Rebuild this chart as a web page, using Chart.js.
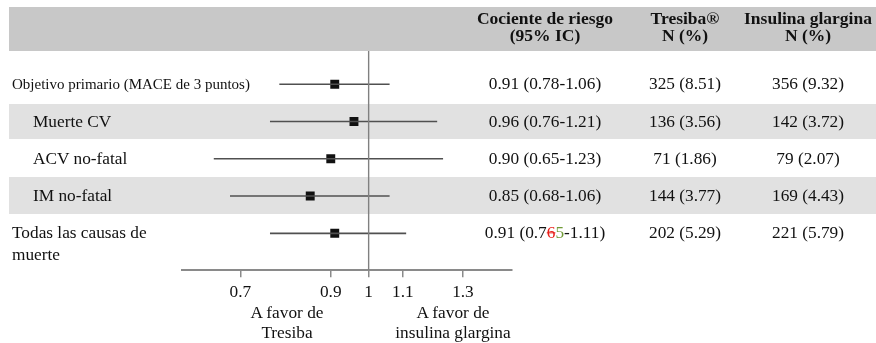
<!DOCTYPE html>
<html>
<head>
<meta charset="utf-8">
<script src="https://cdn.jsdelivr.net/npm/chart.js@4.4.1/dist/chart.umd.min.js"></script>
<style>
  html, body { margin: 0; padding: 0; background: #fff; }
  #wrap { position: relative; width: 876px; height: 343px; overflow: hidden; font-family: "Liberation Serif", "Times New Roman", serif; color: #111; }
  #wrap canvas { position: absolute; left: 0; top: 0; }
  .band { position: absolute; }
  .txt { position: absolute; white-space: nowrap; line-height: 1; }
</style>
</head>
<body>
<div id="wrap">
  <canvas id="forest" width="876" height="343"></canvas>
</div>
<script>
// datos
const rowLabels = ["Objetivo primario (MACE de 3 puntos)", "Muerte CV", "ACV no-fatal", "IM no-fatal", "Todas las causas de muerte"];
const hr = [0.91, 0.96, 0.90, 0.85, 0.91];
const ciLow = [0.78, 0.76, 0.65, 0.68, 0.76];
const ciHigh = [1.06, 1.21, 1.23, 1.06, 1.11];
const ciText = ["0.91 (0.78-1.06)", "0.96 (0.76-1.21)", "0.90 (0.65-1.23)", "0.85 (0.68-1.06)",
  '0.91 (0.7<span style="color:#e8201a;text-decoration:line-through">6</span><span style="color:#6f9a35">5</span>-1.11)'];
const tresibaN = ["325 (8.51)", "136 (3.56)", "71 (1.86)", "144 (3.77)", "202 (5.29)"];
const glarginaN = ["356 (9.32)", "142 (3.72)", "79 (2.07)", "169 (4.43)", "221 (5.79)"];
const headers = [["Cociente de riesgo", "(95% IC)"], ["Tresiba®", "N (%)"], ["Insulina glargina", "N (%)"]];
const xTicks = [0.7, 0.9, 1, 1.1, 1.3];

const wrap = document.getElementById("wrap");
const FS = 17.3;

function addBand(x, y, w, h, color) {
  const d = document.createElement("div");
  d.className = "band";
  d.style.left = x + "px";
  d.style.top = y + "px";
  d.style.width = w + "px";
  d.style.height = h + "px";
  d.style.background = color;
  wrap.insertBefore(d, wrap.firstChild);
}

function addText(html, x, y, size, align, bold) {
  const d = document.createElement("div");
  d.className = "txt";
  d.innerHTML = html;
  d.style.left = x + "px";
  d.style.top = y + "px";
  d.style.fontSize = size + "px";
  if (bold) d.style.fontWeight = "bold";
  d.style.transform = align === "center" ? "translate(-50%, -50%)" : "translateY(-50%)";
  wrap.appendChild(d);
}

// fondos
const rowY = [84, 122, 159, 196, 233];
[[104, 35], [177, 37]].forEach(b => {
  addBand(9, b[0], 867, b[1], "#e1e1e1");
  [190, 465, 628, 743].forEach(sx => addBand(sx, b[0], 2, b[1], "#f2f2f2"));
});
addBand(9, 7, 867, 44, "#c8c8c8");

// cabecera
const colX = [545, 685, 808];
headers.forEach((h, i) => {
  addText(h[0], colX[i], 19, 17.5, "center", true);
  addText(h[1], colX[i], 36, 17.5, "center", true);
});

// filas
addText(rowLabels[0], 12, rowY[0], 15, "left");
for (let i = 1; i < 4; i++) addText(rowLabels[i], 33, rowY[i], FS, "left");
addText("Todas las causas de", 12, rowY[4], FS, "left");
addText("muerte", 12, rowY[4] + 22, FS, "left");

for (let i = 0; i < rowLabels.length; i++) {
  addText(ciText[i], colX[0], rowY[i], FS, "center");
  addText(tresibaN[i], colX[1], rowY[i], FS, "center");
  addText(glarginaN[i], colX[2], rowY[i], FS, "center");
}

addText("A favor de", 287, 313, FS, "center");
addText("Tresiba", 287, 333, FS, "center");
addText("A favor de", 453, 313, FS, "center");
addText("insulina glargina", 453, 333, FS, "center");

// grafico
const yMin = -0.89;
const yMax = 4.99;

const ciSets = hr.map((v, i) => ({
  type: "line",
  data: [{ x: ciLow[i], y: i }, { x: ciHigh[i], y: i }],
  borderColor: "#505050",
  borderWidth: 1.6,
  pointRadius: 0
}));

const ctx = document.getElementById("forest").getContext("2d");
new Chart(ctx, {
  type: "scatter",
  data: {
    datasets: [
      {
        type: "line",
        data: [{ x: 1, y: yMin }, { x: 1, y: yMax }],
        borderColor: "#808080",
        borderWidth: 1.4,
        pointRadius: 0
      },
      ...ciSets,
      {
        data: hr.map((v, i) => ({ x: v, y: i })),
        pointStyle: "rect",
        pointRadius: 6.3,
        backgroundColor: "#111",
        borderWidth: 0
      }
    ]
  },
  options: {
    responsive: false,
    animation: false,
    layout: { padding: { left: 182, right: 364, top: 51, bottom: 35 } },
    plugins: { legend: { display: false }, tooltip: { enabled: false } },
    scales: {
      x: {
        type: "logarithmic",
        min: 0.595,
        max: 1.49,
        border: { color: "#8a8a8a", width: 2 },
        grid: { drawOnChartArea: false, drawTicks: true, tickLength: 7, color: "#8a8a8a", lineWidth: 1.5 },
        afterBuildTicks: axis => { axis.ticks = xTicks.map(v => ({ value: v })); },
        ticks: {
          autoSkip: false,
          maxRotation: 0,
          padding: 5,
          color: "#111",
          font: { family: "Liberation Serif", size: FS },
          callback: (v, i) => String(xTicks[i])
        }
      },
      y: {
        type: "linear",
        min: yMin,
        max: yMax,
        reverse: true,
        display: false
      }
    }
  }
});
</script>
</body>
</html>
